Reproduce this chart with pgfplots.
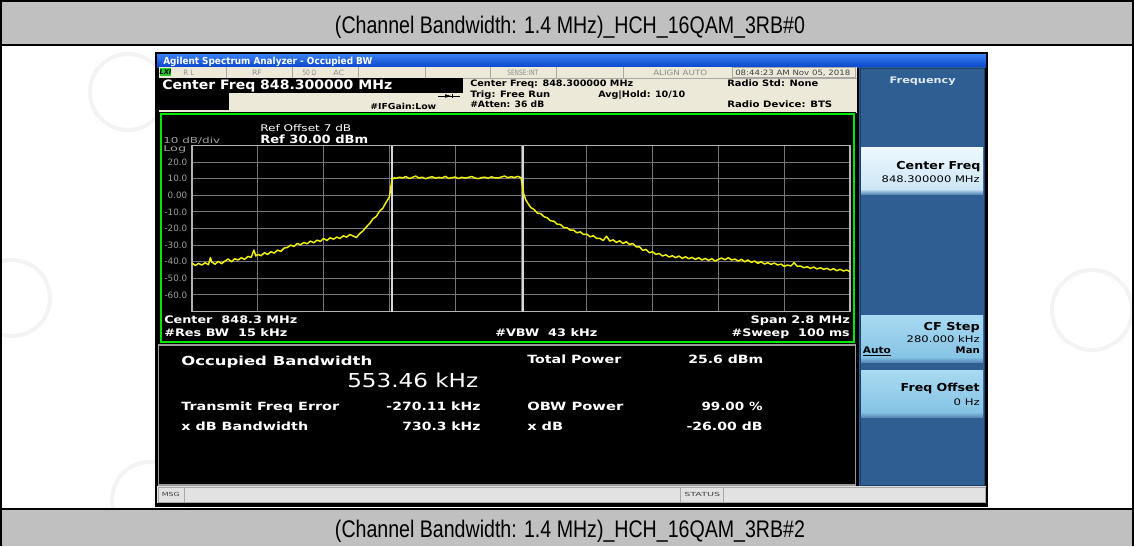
\documentclass[border=0pt]{standalone}
\usepackage{pgfplots}
\pgfplotsset{compat=1.18}
\usepackage{graphicx}
\usepackage{fontspec}
\setmainfont{DejaVu Sans}
\newfontfamily\lib{Liberation Sans}
\definecolor{band}{HTML}{C0C0C0}
\definecolor{beige}{HTML}{ECE9D8}
\definecolor{tb1}{HTML}{3A7FF2}
\definecolor{tb2}{HTML}{0A48CC}
\definecolor{skp}{HTML}{2F5F92}
\definecolor{skpd}{HTML}{1E3F66}
\definecolor{k1t}{HTML}{EEF8FE}
\definecolor{k1b}{HTML}{CDE6F5}
\definecolor{k2t}{HTML}{A8DAF2}
\definecolor{k2b}{HTML}{86C4E4}
\definecolor{ksh}{HTML}{5A8CBA}
\definecolor{grn}{HTML}{00E600}
\definecolor{lab}{HTML}{A0A0A0}
\definecolor{gridc}{HTML}{767676}
\definecolor{bordc}{HTML}{B4B4B4}
\definecolor{trace}{HTML}{F2F200}
\definecolor{mk}{HTML}{D8D8D8}
\definecolor{sgray}{HTML}{8C8C8C}
\definecolor{dgray}{HTML}{404040}
\definecolor{lpb}{HTML}{9A9A9A}
\definecolor{msgc}{HTML}{E2E2E2}
\definecolor{wmc}{HTML}{F3F3F3}
\definecolor{lxig}{HTML}{22CC22}
\definecolor{fgc}{HTML}{E0E8F2}
\definecolor{divc}{HTML}{A8A8A8}
\newlength\pxu \setlength\pxu{0.75pt}
\newcommand\fs[1]{\fontsize{#1}{#1}\selectfont}
\newcommand\tw[2]{\resizebox{#1\pxu}{\height}{#2}}
% x, baseline, width(px), font, color, text
\newcommand\TL[6]{\node[anchor=base west,inner sep=0pt,text=#5] at (#1,#2) {\tw{#3}{#4#6}};}
\newcommand\TR[6]{\node[anchor=base east,inner sep=0pt,text=#5] at (#1,#2) {\tw{#3}{#4#6}};}
\newcommand\TC[6]{\node[anchor=base,inner sep=0pt,text=#5] at (#1,#2) {\tw{#3}{#4#6}};}
\begin{document}
\begin{tikzpicture}[x=0.75pt,y=-0.75pt]
\useasboundingbox (0,0) rectangle (1134,546);
\fill[white] (0,0) rectangle (1134,546);
% watermarks
\begin{scope}
\clip (0,0) rectangle (1134,546);
\draw[wmc,line width=3pt] (128,92) circle (38);
\draw[wmc,line width=3pt] (12,298) circle (38);
\draw[wmc,line width=3pt] (1092,310) circle (40);
\draw[wmc,line width=3pt] (150,500) circle (38);
\end{scope}
% bands
\fill[band] (0,0) rectangle (1134,45);
\fill[band] (0,509) rectangle (1134,546);
\draw[line width=1.5pt] (0,1)--(1134,1) (0,45)--(1134,45) (0,509)--(1134,509) (1,0)--(1,546) (1133,0)--(1133,546);
\node[anchor=base,inner sep=0pt] at (570,33.5) {\tw{470}{\lib\fs{18}(Channel Bandwidth: 1.4 MHz)\_HCH\_16QAM\_3RB\#0}};
\node[anchor=base,inner sep=0pt] at (570,537.5) {\tw{470}{\lib\fs{18}(Channel Bandwidth: 1.4 MHz)\_HCH\_16QAM\_3RB\#2}};
% screen
\fill[black] (155,52) rectangle (988,507);
\shade[top color=tb1,bottom color=tb2] (157,54) rectangle (986,67);
\TL{163}{64.5}{209}{\fs{7.2}\bfseries}{white}{Agilent Spectrum Analyzer - Occupied BW}
% header
\fill[beige] (159,67) rectangle (857,113);
\draw[divc,line width=0.6pt] (226,67)--(226,78) (292,67)--(292,78) (358,67)--(358,78) (425,67)--(425,78) (490,67)--(490,78) (556,67)--(556,78) (623,67)--(623,78) (463,78)--(857,78);
\draw[divc,line width=0.6pt] (732,67.5) rectangle (855,77.5);
\fill[lxig] (160,68) rectangle (171,76);
\node[inner sep=0pt] at (165.5,72) {\fs{5}\bfseries\itshape LXI};
\TL{183}{75.7}{11}{\fs{5.5}}{sgray}{R L}
\TC{257}{75.7}{10}{\fs{5.5}}{sgray}{RF}
\TL{302}{75.7}{14}{\fs{5.5}}{sgray}{50 Ω}
\TL{333}{75.7}{11}{\fs{5.5}}{sgray}{AC}
\TL{507}{75.7}{31}{\fs{5.5}}{sgray}{SENSE:INT}
\TL{653}{75.7}{54}{\fs{5.5}}{sgray}{ALIGN AUTO}
\TL{735}{75.7}{115}{\fs{5.5}}{dgray}{08:44:23 AM Nov 05, 2018}
\fill[black] (159,78) rectangle (463,93);
\fill[black] (159,93) rectangle (229,110);
\TL{162}{89.7}{230}{\fs{9.7}\bfseries}{white}{Center Freq 848.300000 MHz}
\TL{370}{109}{66}{\fs{6.2}\bfseries}{black}{\#IFGain:Low}
\draw[line width=0.6pt] (438,96)--(460,96) (452,94)--(452,98);
\fill (445,94.2)--(451,96)--(445,97.8)--cycle;
\TL{470}{86.7}{163}{\fs{6.6}\bfseries}{black}{Center Freq: 848.300000 MHz}
\TL{470}{97.3}{80}{\fs{6.6}\bfseries}{black}{Trig: Free Run}
\TL{470}{107.3}{74}{\fs{6.6}\bfseries}{black}{\#Atten: 36 dB}
\TL{598}{97.3}{87}{\fs{6.6}\bfseries}{black}{Avg|Hold: 10/10}
\TL{727}{86.7}{91}{\fs{6.6}\bfseries}{black}{Radio Std: None}
\TL{727}{107.3}{105}{\fs{6.6}\bfseries}{black}{Radio Device: BTS}
% softkeys
\fill[skp] (859,67) rectangle (985,486);
\draw[skpd,line width=0.75pt] (860,68) rectangle (984,485);
\shade[top color=k1t,bottom color=k1b] (861,147) rectangle (983,189);
\shade[top color=k1b,bottom color=ksh] (861,189) rectangle (983,194);
\shade[top color=k2t,bottom color=k2b] (861,315) rectangle (983,357);
\shade[top color=k2b,bottom color=ksh] (861,357) rectangle (983,362);
\shade[top color=k2t,bottom color=k2b] (861,370) rectangle (983,412);
\shade[top color=k2b,bottom color=ksh] (861,412) rectangle (983,417);
\TC{922.7}{83.3}{66}{\fs{6.8}\bfseries}{fgc}{Frequency}
\TR{980.7}{169}{84}{\fs{8.2}\bfseries}{black}{Center Freq}
\TR{980}{182.3}{98}{\fs{6.8}}{black}{848.300000 MHz}
\TR{980}{330.7}{56}{\fs{8.2}\bfseries}{black}{CF Step}
\TR{980}{342.3}{73}{\fs{6.8}}{black}{280.000 kHz}
\TL{862.7}{353.3}{28}{\fs{6.8}\bfseries}{black}{Auto}
\draw[line width=0.6pt] (862.7,355.5)--(890.7,355.5);
\TR{980}{353.3}{24}{\fs{6.8}\bfseries}{black}{Man}
\TR{980}{391.7}{79}{\fs{8.2}\bfseries}{black}{Freq Offset}
\TR{980}{405}{26}{\fs{6.8}}{black}{0 Hz}
% graph panel
\fill[black] (159,112) rectangle (856,344);
\draw[grn,line width=1.5pt] (161,114) rectangle (853.5,342);
\TL{260}{131.7}{91}{\fs{6.9}}{white}{Ref Offset 7 dB}
\TL{260}{143.3}{108}{\fs{8.5}\bfseries}{white}{Ref 30.00 dBm}
\TL{163}{143.3}{57}{\fs{6.2}}{lab}{10 dB/div}
\TL{163}{151.5}{23}{\fs{6.2}}{lab}{Log}
\TL{164}{323.3}{133}{\fs{7.8}\bfseries}{white}{Center\ \ 848.3 MHz}
\TL{164}{336.7}{123}{\fs{7.8}\bfseries}{white}{\#Res BW\ \ 15 kHz}
\TL{495}{336.7}{102}{\fs{7.8}\bfseries}{white}{\#VBW\ \ 43 kHz}
\TR{850}{323.3}{99}{\fs{7.8}\bfseries}{white}{Span 2.8 MHz}
\TR{850}{336.7}{118}{\fs{7.8}\bfseries}{white}{\#Sweep\ \ 100 ms}
% lower panel
\fill[black] (158,344) rectangle (856,485);
\draw[lpb,line width=1pt] (158.5,345) rectangle (855.5,485);
\TL{181}{365}{191}{\fs{9.3}\bfseries}{white}{Occupied Bandwidth}
\TL{347}{387.3}{131}{\fs{14.4}}{white}{553.46 kHz}
\TL{527}{363.3}{94}{\fs{8.5}\bfseries}{white}{Total Power}
\TL{688}{363.3}{75}{\fs{8.5}\bfseries}{white}{25.6 dBm}
\TL{181}{410}{158}{\fs{8.5}\bfseries}{white}{Transmit Freq Error}
\TR{480.7}{410}{94}{\fs{8.5}\bfseries}{white}{-270.11 kHz}
\TL{527}{410}{96}{\fs{8.5}\bfseries}{white}{OBW Power}
\TR{762.8}{410}{61}{\fs{8.5}\bfseries}{white}{99.00 \%}
\TL{181}{430}{127}{\fs{8.5}\bfseries}{white}{x dB Bandwidth}
\TR{480.7}{430}{78}{\fs{8.5}\bfseries}{white}{730.3 kHz}
\TL{527}{430}{36}{\fs{8.5}\bfseries}{white}{x dB}
\TR{762.8}{430}{76}{\fs{8.5}\bfseries}{white}{-26.00 dB}
% msg bar
\fill[msgc] (157,486) rectangle (986,503);
\draw[divc,line width=0.6pt] (158,487) rectangle (985,502) (184.7,487)--(184.7,502) (680,487)--(680,502) (723,487)--(723,502);
\TL{161.5}{496.7}{18}{\fs{4.2}}{dgray}{MSG}
\TL{684}{496.7}{36}{\fs{4.2}}{dgray}{STATUS}
% plot
\coordinate (AX) at (192,311.5);
\begin{scope}[x=1pt,y=1pt]
\begin{axis}[
  at={(AX)}, anchor=south west,
  width=493.5pt, height=124.5pt, scale only axis,
  xmin=0, xmax=10, ymin=-70, ymax=30,
  xtick={1,2,...,9}, ytick={-60,-50,...,20},
  xticklabels={},
  yticklabels={-60.0,-50.0,-40.0,-30.0,-20.0,-10.0,0.00,10.0,20.0},
  yticklabel style={font=\fs{6.6}, text=lab},
  major tick length=0pt,
  grid=major, major grid style={draw=gridc, line width=0.75pt},
  axis line style={draw=bordc, line width=1.1pt},
  clip=true,
]
\addplot[mk, line width=1.1pt] coordinates {(3.04,-70) (3.04,30)};
\addplot[mk, line width=1.1pt] coordinates {(5.03,-70) (5.03,30)};
\addplot[trace, line width=1.1pt, line join=round] coordinates {
(0.00,-40.8) (0.05,-42.3) (0.10,-41.0) (0.15,-42.0) (0.20,-40.6) (0.25,-41.8) (0.28,-37.5) (0.30,-40.2)
(0.35,-41.5) (0.40,-39.8) (0.45,-41.2) (0.50,-39.6) (0.55,-38.4) (0.60,-40.0) (0.65,-38.2) (0.70,-39.0)
(0.75,-37.6) (0.80,-38.6) (0.85,-36.8) (0.90,-37.4) (0.94,-33.0) (0.97,-36.6) (1.00,-35.6) (1.05,-36.4)
(1.10,-34.6) (1.15,-35.6) (1.20,-34.0) (1.25,-34.8) (1.30,-33.0) (1.35,-33.8) (1.40,-31.8) (1.45,-31.4)
(1.50,-30.0) (1.55,-30.8) (1.60,-29.0) (1.65,-29.8) (1.70,-28.4) (1.75,-29.2) (1.80,-27.6) (1.85,-28.6)
(1.90,-27.0) (1.95,-27.8) (2.00,-26.0) (2.05,-27.2) (2.10,-25.6) (2.15,-26.4) (2.20,-25.2) (2.25,-26.0)
(2.30,-24.4) (2.35,-25.2) (2.40,-23.6) (2.45,-24.6) (2.50,-25.4) (2.55,-23.0) (2.60,-21.4) (2.65,-19.0)
(2.70,-17.0) (2.75,-14.2) (2.80,-12.8) (2.85,-9.6) (2.90,-7.8) (2.95,-4.2) (3.00,-1.0) (3.02,4.5)
(3.04,9.6) (3.08,10.6) (3.10,10.2) (3.15,10.9) (3.20,10.5) (3.25,11.3) (3.30,10.1) (3.35,10.8)
(3.40,11.6) (3.45,10.4) (3.50,10.9) (3.55,10.0) (3.60,10.7) (3.65,11.2) (3.70,10.3) (3.75,10.8)
(3.80,10.5) (3.85,11.4) (3.90,10.2) (3.95,10.6) (4.00,11.0) (4.05,10.1) (4.10,10.9) (4.15,10.4)
(4.20,10.8) (4.25,11.3) (4.30,10.5) (4.35,10.0) (4.40,10.7) (4.45,10.9) (4.50,10.3) (4.55,11.1)
(4.60,10.6) (4.65,10.4) (4.70,11.0) (4.75,11.6) (4.80,10.6) (4.85,11.2) (4.90,10.7) (4.95,11.4)
(5.00,10.6) (5.02,6.0) (5.04,1.0) (5.07,-2.5) (5.10,-4.6) (5.15,-7.4) (5.20,-8.6) (5.25,-10.8)
(5.30,-11.0) (5.35,-12.9) (5.40,-13.6) (5.45,-15.4) (5.50,-15.6) (5.55,-17.4) (5.60,-17.6) (5.65,-19.4)
(5.70,-19.6) (5.75,-21.0) (5.80,-21.0) (5.85,-22.6) (5.90,-22.0) (5.95,-23.6) (6.00,-23.4) (6.05,-25.0)
(6.10,-24.4) (6.15,-26.0) (6.20,-26.0) (6.25,-27.2) (6.30,-24.6) (6.35,-27.6) (6.40,-26.8) (6.45,-28.4)
(6.50,-27.4) (6.55,-29.0) (6.60,-28.0) (6.65,-29.6) (6.70,-29.0) (6.75,-31.0) (6.80,-31.0) (6.85,-33.2)
(6.90,-32.6) (6.95,-34.6) (7.00,-34.0) (7.05,-35.6) (7.10,-35.0) (7.15,-36.6) (7.20,-35.8) (7.25,-37.2)
(7.30,-36.4) (7.35,-37.6) (7.40,-36.6) (7.45,-38.0) (7.50,-37.0) (7.55,-38.2) (7.60,-37.4) (7.65,-38.6)
(7.70,-37.6) (7.75,-39.0) (7.80,-38.0) (7.85,-39.2) (7.90,-38.2) (7.95,-39.6) (8.00,-38.6) (8.05,-37.8)
(8.10,-38.8) (8.15,-37.6) (8.20,-39.0) (8.25,-38.4) (8.30,-39.6) (8.35,-38.6) (8.40,-40.0) (8.45,-39.0)
(8.50,-40.4) (8.55,-39.6) (8.60,-41.0) (8.65,-40.0) (8.70,-41.4) (8.75,-40.6) (8.80,-41.6) (8.85,-40.8)
(8.90,-42.0) (8.95,-41.4) (9.00,-42.8) (9.05,-42.0) (9.10,-42.6) (9.15,-40.6) (9.20,-42.8) (9.25,-42.6)
(9.30,-43.6) (9.35,-43.0) (9.40,-44.0) (9.45,-43.2) (9.50,-44.4) (9.55,-43.6) (9.60,-44.6) (9.65,-44.0)
(9.70,-45.0) (9.75,-44.2) (9.80,-45.4) (9.85,-44.6) (9.90,-45.6) (9.95,-45.0) (10.00,-46.0)
};
\end{axis}
\end{scope}
\end{tikzpicture}
\end{document}
